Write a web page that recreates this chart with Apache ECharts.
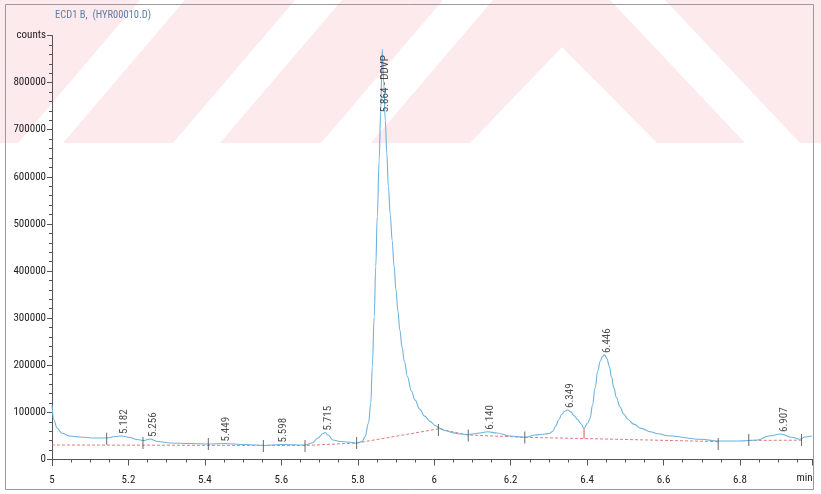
<!DOCTYPE html>
<html lang="en">
<head>
<meta charset="UTF-8">
<title>ECD1 B, (HYR00010.D)</title>
<script src="https://cdn.jsdelivr.net/npm/echarts@6/dist/echarts.min.js"></script>
<style>
    html, body { margin: 0; padding: 0; background: #fff; }
    #main { width: 821px; height: 494px; }
</style>
</head>
<body>
<div id="main"></div>
<script>
// signal trace (time in min, signal in counts)
var traceTime = [5.000, 5.005, 5.013, 5.026, 5.047, 5.073, 5.113, 5.144, 5.165, 5.182,
    5.204, 5.222, 5.241, 5.256, 5.277, 5.309, 5.361, 5.411, 5.449, 5.505,
    5.555, 5.598, 5.662, 5.680, 5.696, 5.709, 5.715, 5.722, 5.735, 5.754,
    5.774, 5.798, 5.811, 5.819, 5.828, 5.834, 5.838, 5.843, 5.847, 5.851,
    5.856, 5.860, 5.864, 5.868, 5.872, 5.876, 5.880, 5.885, 5.890, 5.895,
    5.900, 5.905, 5.910, 5.916, 5.922, 5.930, 5.940, 5.950, 5.962, 5.975,
    5.989, 6.003, 6.015, 6.030, 6.050, 6.070, 6.089, 6.120, 6.140, 6.164,
    6.198, 6.238, 6.264, 6.290, 6.303, 6.310, 6.318, 6.326, 6.334, 6.341,
    6.349, 6.357, 6.366, 6.375, 6.384, 6.392, 6.402, 6.408, 6.414, 6.421,
    6.428, 6.434, 6.440, 6.446, 6.452, 6.458, 6.464, 6.470, 6.477, 6.486,
    6.496, 6.507, 6.522, 6.542, 6.565, 6.586, 6.611, 6.696, 6.743, 6.797,
    6.846, 6.876, 6.907, 6.936, 6.957, 6.970, 6.988];
var traceCounts = [115700, 83900, 66900, 55600, 49900, 47800, 45600, 45600, 48800, 49900,
    46700, 42500, 40300, 43500, 38200, 35000, 34000, 32900, 34000, 31800,
    29700, 31800, 30800, 35000, 45600, 55200, 57300, 52000, 41400, 38200,
    37200, 35000, 38000, 48000, 77000, 119000, 197000, 303000, 409000, 515000,
    636000, 740000, 871000, 800000, 720000, 650000, 580000, 520000, 465000, 410000,
    360000, 315000, 275000, 238000, 208000, 176000, 146000, 126000, 107000, 92000,
    81000, 72000, 66000, 61000, 56500, 54000, 53100, 56300, 59000, 56300,
    49900, 47100, 52000, 54100, 55600, 60000, 71000, 85000, 96000, 102500,
    105100, 101000, 93000, 85000, 76000, 66200, 78000, 88000, 115000, 152000,
    188000, 208000, 219000, 222000, 214000, 198000, 175000, 152000, 131000, 112000,
    96000, 85000, 75000, 66000, 59000, 54500, 50500, 42900, 39300, 39300,
    41400, 49900, 54100, 47100, 42900, 47800, 49900];

// integration baselines (two segments) and the drop line between 6.349 and 6.446
var baseTimeA = [5.000, 5.662, 5.797, 6.011, 6.089, 6.237, 6.392, 6.743];
var baseCountsA = [30800, 29700, 35000, 65000, 52000, 47100, 44500, 38000];
var baseTimeB = [6.823, 6.961];
var baseCountsB = [40500, 41000];
var dropTime = [6.392, 6.392];
var dropCounts = [44500, 66200];

// peak start / end marks
var markTimes = [5.143, 5.238, 5.409, 5.553, 5.662, 5.797, 6.011, 6.089, 6.237, 6.743, 6.823, 6.961];
var markCounts = [44000, 35000, 33000, 28700, 28700, 35000, 62600, 51000, 46700, 33000, 41400, 41400];

// peak annotations
var peakTimes = [5.182, 5.256, 5.449, 5.598, 5.715, 5.864, 6.140, 6.349, 6.446, 6.907];
var peakNames = ['5.182', '5.256', '5.449', '5.598', '5.715', '5.864 - DDVP', '6.140', '6.349', '6.446', '6.907'];
var peakCounts = [49900, 43500, 34000, 31800, 57300, 871000, 59000, 105100, 222000, 54100];

var FONT = "'Roboto Condensed', 'DejaVu Sans Condensed', sans-serif";

function pairs(xs, ys) {
    var out = [];
    for (var i = 0; i < xs.length; i++) out.push([xs[i], ys[i]]);
    return out;
}

var peakData = [];
for (var i = 0; i < peakTimes.length; i++) {
    var item = {value: [peakTimes[i], peakCounts[i]], name: peakNames[i]};
    // tall peak: label runs down inside the peak instead of above it
    if (peakCounts[i] > 800000) {
        item.label = {position: 'bottom', align: 'right', distance: 6};
    }
    peakData.push(item);
}

// faint pink watermark from the scanned page
var wmColor = '#fdeaed';
var watermark = [
    [[0, 0], [140, 0], [18, 143], [0, 143]],
    [[185, 0], [295, 0], [173, 143], [63, 143]],
    [[342, 0], [443, 0], [321, 143], [220, 143]],
    [[493, 0], [610, 0], [745, 143], [657, 143], [562, 47], [470, 143], [371, 143]],
    [[665, 0], [821, 0], [821, 143], [800, 143]]
];
var graphics = watermark.map(function (pts) {
    return {type: 'polygon', z: -10, silent: true, shape: {points: pts}, style: {fill: wmColor}};
});
graphics.push({
    type: 'rect', z: 10, silent: true,
    shape: {x: 5.5, y: 4.5, width: 808, height: 485},
    style: {fill: 'none', stroke: '#9a9a9a', lineWidth: 1}
});

var myChart = echarts.init(document.getElementById('main'));
var option = {
    animation: false,
    backgroundColor: '#fff',
    title: {
        text: 'ECD1 B,  (HYR00010.D)',
        left: 50, top: 5,
        textStyle: {fontFamily: FONT, fontSize: 10.5, fontWeight: 'normal', color: '#5b7ea8'}
    },
    grid: {left: 52, right: 8.4, top: 35.5, bottom: 34.5},
    xAxis: {
        type: 'value', min: 5, max: 6.99, interval: 0.2, offset: 6.5,
        name: 'min', nameLocation: 'end', nameGap: 0,
        nameTextStyle: {fontFamily: FONT, fontSize: 11, color: '#222', align: 'right', verticalAlign: 'top', padding: [13, 0, 0, 0]},
        axisLine: {lineStyle: {color: '#555'}},
        axisTick: {length: 6, lineStyle: {color: '#555'}},
        minorTick: {show: true, splitNumber: 4, length: 3, lineStyle: {color: '#555'}},
        splitLine: {show: false},
        axisLabel: {fontFamily: FONT, fontSize: 11, color: '#222', margin: 9, showMaxLabel: false}
    },
    yAxis: {
        type: 'value', min: 0, max: 900000, interval: 100000,
        axisLine: {show: true, lineStyle: {color: '#555'}},
        axisTick: {show: true, length: 5, lineStyle: {color: '#555'}},
        minorTick: {show: true, splitNumber: 5, length: 3, lineStyle: {color: '#555'}},
        splitLine: {show: false},
        axisLabel: {
            fontFamily: FONT, fontSize: 11, color: '#222', margin: 6,
            formatter: function (v) { return v === 900000 ? 'counts' : String(v); }
        }
    },
    graphic: graphics,
    series: [
        {
            name: 'ECD1 B', type: 'line', data: pairs(traceTime, traceCounts),
            showSymbol: false, smooth: 0.4, smoothMonotone: 'x', z: 3,
            lineStyle: {color: '#6db3dc', width: 1.1}
        },
        {
            type: 'line', data: pairs(baseTimeA, baseCountsA), showSymbol: false, z: 2,
            lineStyle: {color: '#e07b7b', width: 1, type: [3, 2]}
        },
        {
            type: 'line', data: pairs(baseTimeB, baseCountsB), showSymbol: false, z: 2,
            lineStyle: {color: '#e07b7b', width: 1, type: [3, 2]}
        },
        {
            type: 'line', data: pairs(dropTime, dropCounts), showSymbol: false, z: 2,
            lineStyle: {color: '#d9534f', width: 1}
        },
        {
            type: 'scatter', data: pairs(markTimes, markCounts), z: 4,
            symbol: 'rect', symbolSize: [1, 12], itemStyle: {color: '#444'}
        },
        {
            type: 'scatter', data: peakData, symbolSize: 0, z: 5,
            label: {
                show: true, position: 'top', distance: 2, rotate: 90,
                align: 'left', verticalAlign: 'middle', offset: [0, 3],
                fontFamily: FONT, fontSize: 11, color: '#222',
                formatter: function (p) { return p.name; }
            }
        }
    ]
};
myChart.setOption(option);

// close the small gap between the y axis (ends at 0) and the offset x axis
var p0 = myChart.convertToPixel({gridIndex: 0}, [5, 0]);
graphics.push({
    type: 'line', silent: true,
    shape: {x1: p0[0] + 0.5, y1: p0[1], x2: p0[0] + 0.5, y2: p0[1] + 6.5},
    style: {stroke: '#555', lineWidth: 1}
});
myChart.setOption({graphic: graphics});
</script>
</body>
</html>
